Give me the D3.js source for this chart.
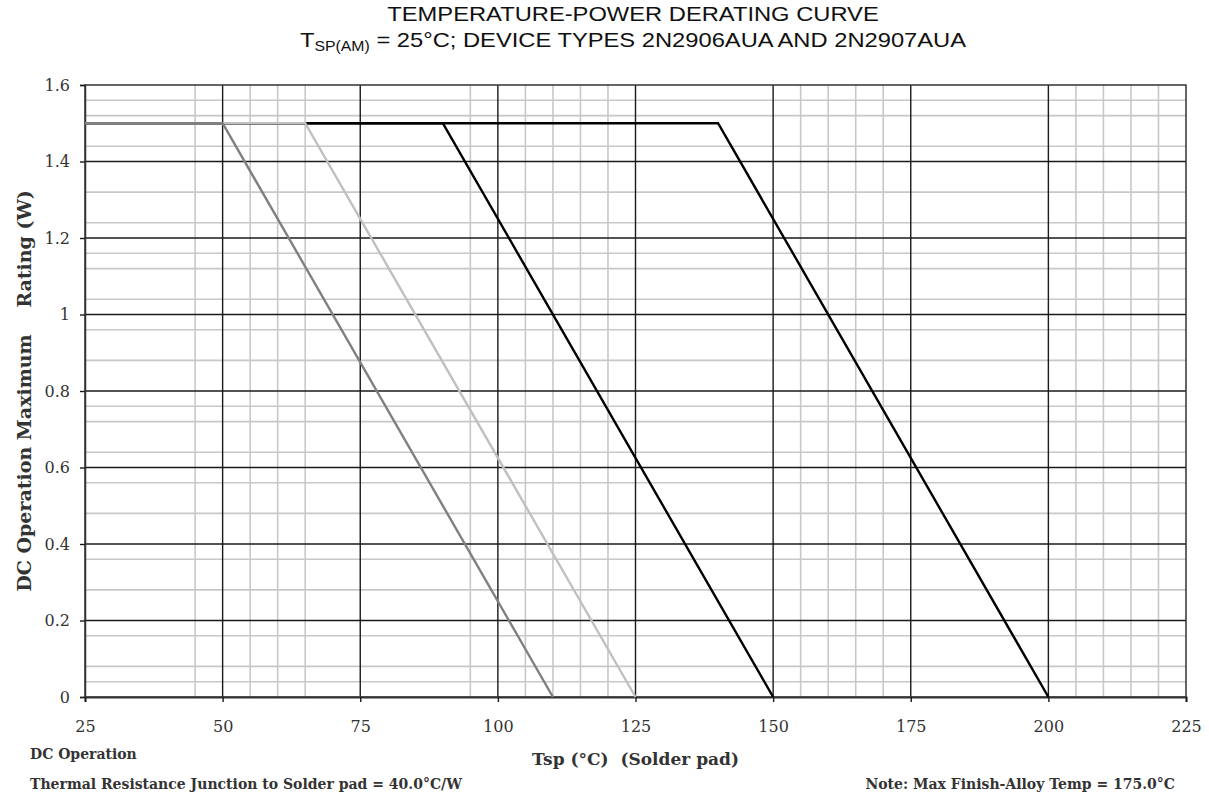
<!DOCTYPE html>
<html>
<head>
<meta charset="utf-8">
<script src="https://cdn.jsdelivr.net/npm/d3@7"></script>
<style>
  body { margin: 0; background: #fff; }
  svg { display: block; }
  .tick-label { font-family: "DejaVu Serif", serif; font-size: 16px; fill: #333; }
  .bold-label { font-family: "DejaVu Serif", serif; font-weight: bold; fill: #333; }
</style>
</head>
<body>
<div id="chart"></div>
<script>
// data
var xTicks = [25, 50, 75, 100, 125, 150, 175, 200, 225];
var yTicks = [0, 0.2, 0.4, 0.6, 0.8, 1, 1.2, 1.4, 1.6];
var yTickLabels = ['0', '0.2', '0.4', '0.6', '0.8', '1', '1.2', '1.4', '1.6'];
// minor grid lines that show in the picture
var minorX = [45, 55, 60, 65, 95, 105, 110, 115, 120, 155, 160, 165, 170, 205, 210, 215, 220];
var minorY = [0.04, 0.08, 0.16, 0.28, 0.36, 0.48, 0.56, 0.64, 0.72, 0.76,
              0.88, 0.96, 1.04, 1.12, 1.16, 1.24, 1.32, 1.44, 1.52, 1.56];

// derating curves, drawn back to front
var curveD = [[25, 1.5], [140, 1.5], [200, 0]];
var curveC = [[25, 1.5], [90, 1.5], [150, 0]];
var curveB = [[25, 1.5], [65, 1.5], [125, 0]];
var curveA = [[25, 1.5], [50, 1.5], [110, 0]];
var curves = [curveD, curveC, curveB, curveA];
var curveColors = ['#000000', '#000000', '#c0c0c0', '#808080'];

var svgWidth = 1209, svgHeight = 797;
var plotLeft = 85, plotRight = 1186, plotTop = 85, plotBottom = 697;

var svg = d3.select('#chart').append('svg').attr('width', svgWidth).attr('height', svgHeight);

var x = d3.scaleLinear().domain([25, 225]).range([plotLeft, plotRight]);
var y = d3.scaleLinear().domain([0, 1.6]).range([plotBottom, plotTop]);

// minor grid
svg.append('g').selectAll('line').data(minorY).enter().append('line')
  .attr('x1', plotLeft).attr('x2', plotRight)
  .attr('y1', function(d){ return y(d); }).attr('y2', function(d){ return y(d); })
  .attr('stroke', '#c8c8c8').attr('stroke-width', 1.6);
svg.append('g').selectAll('line').data(minorX).enter().append('line')
  .attr('y1', plotTop).attr('y2', plotBottom)
  .attr('x1', function(d){ return x(d); }).attr('x2', function(d){ return x(d); })
  .attr('stroke', '#c8c8c8').attr('stroke-width', 1.6);

// major grid
svg.append('g').selectAll('line').data(yTicks.slice(1, -1)).enter().append('line')
  .attr('x1', plotLeft).attr('x2', plotRight)
  .attr('y1', function(d){ return y(d); }).attr('y2', function(d){ return y(d); })
  .attr('stroke', '#1a1a1a').attr('stroke-width', 1.4);
svg.append('g').selectAll('line').data(xTicks.slice(1, -1)).enter().append('line')
  .attr('y1', plotTop).attr('y2', plotBottom)
  .attr('x1', function(d){ return x(d); }).attr('x2', function(d){ return x(d); })
  .attr('stroke', '#1a1a1a').attr('stroke-width', 1.4);

// frame
svg.append('rect').attr('x', plotLeft).attr('y', plotTop)
  .attr('width', plotRight - plotLeft).attr('height', plotBottom - plotTop)
  .attr('fill', 'none').attr('stroke', '#333').attr('stroke-width', 1.5);

// axes
var xAxis = d3.axisBottom(x).tickValues(xTicks).tickSize(5).tickPadding(19)
  .tickFormat(d3.format('d'));
var gx = svg.append('g').attr('transform', 'translate(0,' + plotBottom + ')').call(xAxis);
gx.select('.domain').attr('stroke', '#333').attr('stroke-width', 2);
gx.selectAll('.tick line').attr('stroke', '#1a1a1a').attr('stroke-width', 1.4);
gx.selectAll('.tick text').attr('class', 'tick-label');
gx.attr('font-family', null).attr('font-size', null);

var yAxis = d3.axisLeft(y).tickValues(yTicks).tickSize(5).tickPadding(10)
  .tickFormat(function(d, i){ return yTickLabels[i]; });
var gy = svg.append('g').attr('transform', 'translate(' + plotLeft + ',0)').call(yAxis);
gy.select('.domain').attr('stroke', '#333').attr('stroke-width', 1.5);
gy.selectAll('.tick line').attr('stroke', '#1a1a1a').attr('stroke-width', 1.4);
gy.selectAll('.tick text').attr('class', 'tick-label');
gy.attr('font-family', null).attr('font-size', null);

// curves
var line = d3.line().x(function(d){ return x(d[0]); }).y(function(d){ return y(d[1]); });
svg.append('g').selectAll('path').data(curves).enter().append('path')
  .attr('d', line)
  .attr('fill', 'none')
  .attr('stroke', function(d, i){ return curveColors[i]; })
  .attr('stroke-width', 2.4);

// titles (the source text is a bit stretched sideways)
var title = svg.append('g').attr('transform', 'translate(633,0) scale(1.13,1)')
  .attr('font-family', 'Liberation Sans, Arial, sans-serif')
  .attr('font-size', 21).attr('fill', '#111').attr('text-anchor', 'middle');
title.append('text').attr('x', 0).attr('y', 21)
  .text('TEMPERATURE-POWER DERATING CURVE');
var t2 = title.append('text').attr('x', 0).attr('y', 47);
t2.append('tspan').text('T');
t2.append('tspan').attr('font-size', 14).attr('dy', 4).text('SP(AM)');
t2.append('tspan').attr('dy', -4).text(' = 25°C; DEVICE TYPES 2N2906AUA AND 2N2907AUA');

// axis titles
svg.append('text').attr('class', 'bold-label')
  .attr('transform', 'translate(31,' + ((plotTop + plotBottom) / 2) + ') rotate(-90)')
  .attr('text-anchor', 'middle').attr('font-size', 19)
  .style('white-space', 'pre')
  .text('DC Operation Maximum    Rating (W)');

svg.append('text').attr('class', 'bold-label')
  .attr('x', (plotLeft + plotRight) / 2).attr('y', 765).attr('text-anchor', 'middle')
  .attr('font-size', 17).style('white-space', 'pre')
  .text('Tsp (°C)  (Solder pad)');

// footnotes
svg.append('text').attr('class', 'bold-label').attr('x', 30).attr('y', 759)
  .attr('font-size', 14).text('DC Operation');
svg.append('text').attr('class', 'bold-label').attr('x', 30).attr('y', 789)
  .attr('font-size', 14).text('Thermal Resistance Junction to Solder pad = 40.0°C/W');
svg.append('text').attr('class', 'bold-label').attr('x', 1175).attr('y', 789)
  .attr('text-anchor', 'end').attr('font-size', 14).text('Note: Max Finish-Alloy Temp = 175.0°C');
</script>
</body>
</html>
